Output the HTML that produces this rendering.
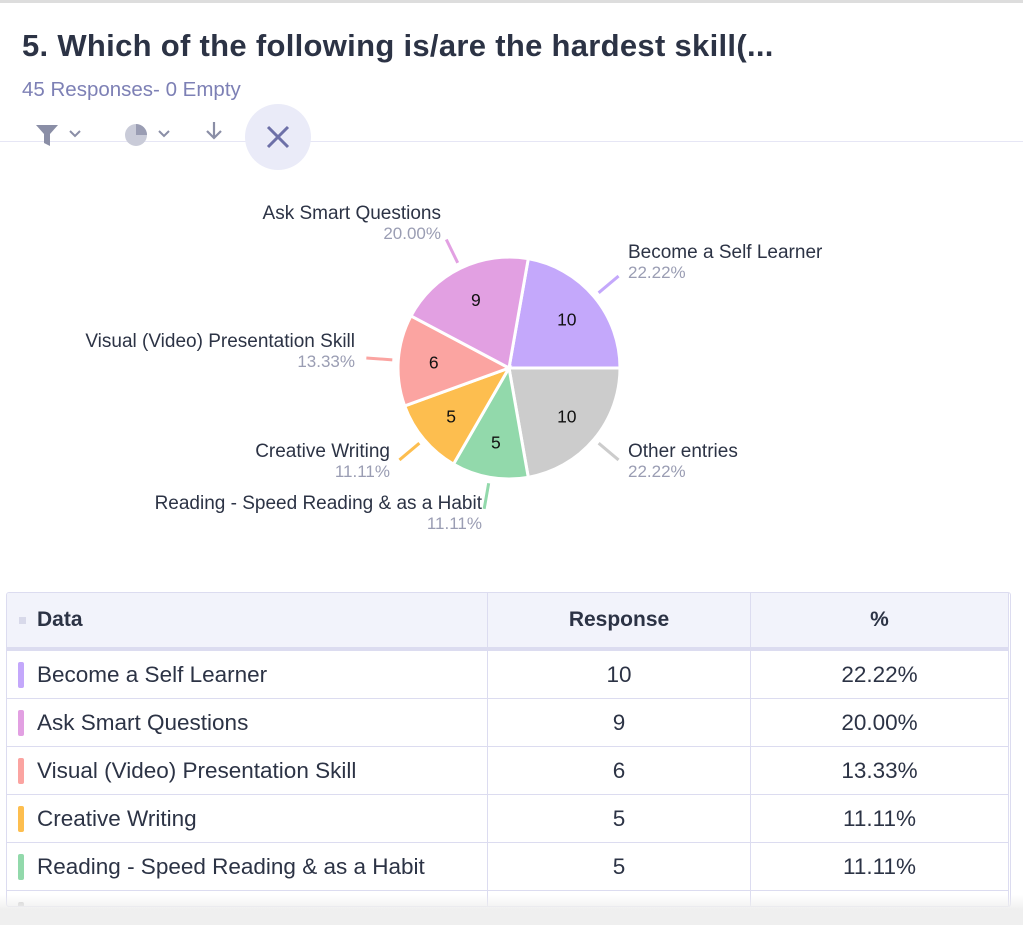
<!DOCTYPE html>
<html><head><meta charset="utf-8"><style>
html,body{margin:0;width:1023px;height:925px;overflow:hidden}
body{background:#fff;font-family:"Liberation Sans",sans-serif;position:relative}
.abs{position:absolute}
.title{left:22px;top:28px;font-size:31px;font-weight:bold;color:#2c3345;letter-spacing:0.3px}
.sub{left:22px;top:78px;font-size:20.5px;color:#7d80b5}
.wrap{position:absolute;left:6px;top:592px;width:1005px;height:315px;overflow:hidden;border:1px solid #dcdcf0;border-radius:3px;box-sizing:border-box}
table{width:100%;border-collapse:collapse;font-size:22.5px;color:#2c3345;margin:-1px}
td,th{border:1px solid #dcdcf0;height:47px;padding:0}
th{background:#f2f3fb;height:54px;font-weight:bold;border-bottom:4px solid #dcdcf0;font-size:21px}
td.n{padding-left:30px;position:relative}
td.c,th.c{text-align:center}
.sw{position:absolute;left:11px;top:11px;width:6px;height:26px;border-radius:2px}
</style></head><body>
<div class="abs" style="left:0;top:0;width:1023px;height:3px;background:#ddd"></div>
<div class="abs title">5. Which of the following is/are the hardest skill(...</div>
<div class="abs sub">45 Responses- 0 Empty</div>
<div class="abs" style="left:0;top:141px;width:1023px;height:1px;background:#e6e6f5"></div>
<svg class="abs" style="left:0;top:100px" width="340" height="75">
<g><path d="M36 25h22l-8 9v12l-6-3v-9z" fill="#8a8ea6"/><path d="M70 31l5 5 5-5" stroke="#8a8ea6" stroke-width="2" fill="none"/></g>
<g><circle cx="136" cy="35" r="11" fill="#c9cbd8"/><path d="M136 35V24a11 11 0 0 1 11 11z" fill="#9a9db3"/><path d="M159 31l5 5 5-5" stroke="#8a8ea6" stroke-width="2" fill="none"/></g>
<g><path d="M214 22v15M207 31l7 7 7-7" stroke="#8a8ea6" stroke-width="2.2" fill="none"/></g>
<g><circle cx="278" cy="37" r="33" fill="#eaebf8"/><path d="M268 27l20 20M288 27l-20 20" stroke="#6d70a8" stroke-width="3"/></g>
</svg>
<svg id="pie" class="abs" style="left:0;top:0" width="1023" height="560"></svg>
<div class="wrap">
<table>
<tr><th style="text-align:left;padding-left:30px;width:450px;position:relative"><span style="position:absolute;left:12px;top:24px;width:7px;height:7px;background:#d8d9ea"></span>Data</th><th class="c" style="width:262px">Response</th><th class="c">%</th></tr>
<tbody id="tb"></tbody>
</table>
</div>
<div class="abs" style="left:0;top:895px;width:1023px;height:30px;background:linear-gradient(rgba(255,255,255,0),#efefef 50%)"></div>
<script>
const categories=["Become a Self Learner","Other entries","Reading - Speed Reading & as a Habit","Creative Writing","Visual (Video) Presentation Skill","Ask Smart Questions"];
const values=[10,10,5,5,6,9];
const colors=["#c4a8fb","#cccccc","#92d9ab","#fdbe4f","#fba4a1","#e2a0e2"];
const tableOrder=[0,5,4,3,2,1];
const labelPos=[[628,258,"start"],[628,457,"start"],[482,509,"end"],[390,457,"end"],[355,347,"end"],[441,219,"end"]];
const NS="http://www.w3.org/2000/svg";
const svg=document.getElementById('pie');
const cx=509,cy=368,R=111,total=values.reduce((a,b)=>a+b,0);
function pt(a,r){return [cx+Math.sin(a)*r,cy-Math.cos(a)*r];}
let ang=10*Math.PI/180;
values.forEach((v,i)=>{
  const a0=ang,a1=ang+v/total*2*Math.PI;ang=a1;
  const p0=pt(a0,R),p1=pt(a1,R);
  const path=document.createElementNS(NS,'path');
  path.setAttribute('d',`M${cx} ${cy}L${p0[0]} ${p0[1]}A${R} ${R} 0 ${a1-a0>Math.PI?1:0} 1 ${p1[0]} ${p1[1]}Z`);
  path.setAttribute('fill',colors[i]);path.setAttribute('stroke','#fff');path.setAttribute('stroke-width','3');
  
  
  svg.appendChild(path);
  const m=(a0+a1)/2,lp=pt(m,R*0.68);
  const t=document.createElementNS(NS,'text');
  t.setAttribute('x',lp[0]);t.setAttribute('y',lp[1]+6);t.setAttribute('text-anchor','middle');t.setAttribute('font-size','17.5');t.setAttribute('fill','#111');
  t.textContent=v;
  
  
  svg.appendChild(t);
  const q0=pt(m,R+6),q1=pt(m,R+32);
  const l=document.createElementNS(NS,'line');
  l.setAttribute('x1',q0[0]);l.setAttribute('y1',q0[1]);l.setAttribute('x2',q1[0]);l.setAttribute('y2',q1[1]);
  l.setAttribute('stroke',colors[i]);l.setAttribute('stroke-width','3');
  
  
  svg.appendChild(l);
  const [lx,ly,anc]=labelPos[i];
  const n=document.createElementNS(NS,'text');
  n.setAttribute('x',lx);n.setAttribute('y',ly);n.setAttribute('text-anchor',anc);n.setAttribute('font-size','19');n.setAttribute('fill','#2c3345');
  n.textContent=categories[i];
  
  
  svg.appendChild(n);
  const pc=document.createElementNS(NS,'text');
  pc.setAttribute('x',lx);pc.setAttribute('y',ly+20);pc.setAttribute('text-anchor',anc);pc.setAttribute('font-size','17');pc.setAttribute('fill','#9a9db3');
  pc.textContent=(v/total*100).toFixed(2)+'%';
  
  
  svg.appendChild(pc);
});
const tb=document.getElementById('tb');
tableOrder.forEach(i=>{
  const tr=document.createElement('tr');
  
  
  tr.innerHTML=`<td class="n"><span class="sw" style="background:${colors[i]}"></span>${categories[i]}</td><td class="c">${values[i]}</td><td class="c">${(values[i]/total*100).toFixed(2)}%</td>`;
  tb.appendChild(tr);
});
</script>
</body></html>
